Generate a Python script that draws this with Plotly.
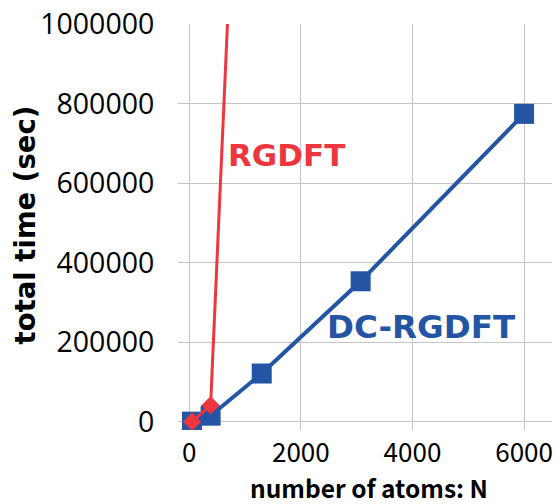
import plotly.graph_objects as go

# DC-RGDFT (blue squares)
dc_atoms = [50, 384, 1300, 3072, 6000]
dc_time = [0, 15000, 121000, 353000, 774000]

# RGDFT (red diamonds) - third point lies far above the axis range
rg_atoms = [54, 384, 1300]
rg_time = [0, 41000, 2950000]

x_ticks = [0, 2000, 4000, 6000]
y_ticks = [0, 200000, 400000, 600000, 800000, 1000000]

BLUE = "#2455A5"
RED = "#EB373D"

fig = go.Figure()
fig.add_trace(go.Scatter(
    x=dc_atoms, y=dc_time, mode="lines+markers",
    line=dict(color=BLUE, width=4),
    marker=dict(symbol="square", size=20, color=BLUE),
    showlegend=False,
))
fig.add_trace(go.Scatter(
    x=rg_atoms, y=rg_time, mode="lines+markers",
    line=dict(color=RED, width=3),
    marker=dict(symbol="diamond", size=14, color=RED),
    showlegend=False,
))

fig.update_layout(
    width=557, height=504,
    margin=dict(l=178, r=4, t=22, b=74),
    plot_bgcolor="white", paper_bgcolor="white",
    xaxis=dict(
        range=[-200, 6500], tickvals=x_ticks, ticktext=[str(v) for v in x_ticks],
        showgrid=True, gridcolor="#C4C4C4", gridwidth=1,
        zeroline=False, showline=False,
        ticks="outside", ticklen=0,
        ticklabelstandoff=0,
        tickfont=dict(family="Noto Sans CJK JP", size=26, color="black"),
    ),
    yaxis=dict(
        range=[-21000, 1000000], tickvals=y_ticks, ticktext=[str(v) for v in y_ticks],
        showgrid=True, gridcolor="#C4C4C4", gridwidth=1,
        zeroline=False, showline=False,
        ticks="outside", ticklen=0,
        ticklabelstandoff=17,
        tickfont=dict(family="Open Sans", size=28.5, color="black"),
    ),
    annotations=[
        dict(text="<b>total time (sec)</b>", textangle=-90,
             xref="paper", yref="paper", x=-0.408, y=0.505,
             xanchor="center", yanchor="middle", showarrow=False,
             font=dict(family="DejaVu Sans", size=27.5, color="black")),
        dict(text="<b>number of atoms: N</b>",
             xref="paper", yref="paper", x=0.512, y=-0.142,
             xanchor="center", yanchor="middle", showarrow=False,
             font=dict(family="Noto Sans CJK JP", size=24.5, color="black")),
        dict(text="<b>RGDFT</b>", xref="x", yref="y", x=1741, y=670000,
             xanchor="center", yanchor="middle", showarrow=False,
             font=dict(family="DejaVu Sans", size=31, color=RED)),
        dict(text="<b>DC-RGDFT</b>", xref="x", yref="y", x=4159, y=239000,
             xanchor="center", yanchor="middle", showarrow=False,
             font=dict(family="DejaVu Sans", size=32.5, color=BLUE)),
    ],
)

fig.write_html("out.html")
